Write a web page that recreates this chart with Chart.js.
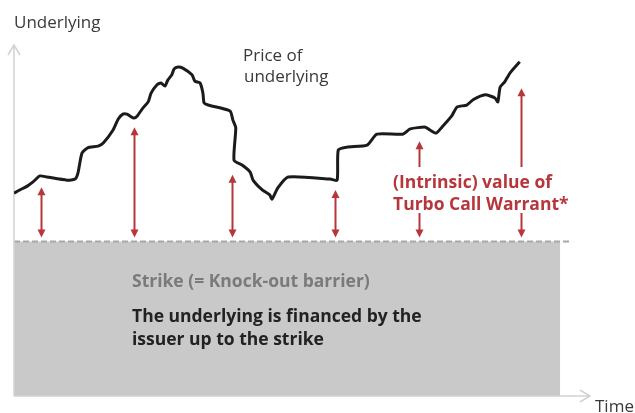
<!DOCTYPE html>
<html>
<head>
<meta charset="utf-8">
<script src="https://cdn.jsdelivr.net/npm/chart.js@4"></script>
<style>
  body { margin: 0; background: #fff; }
  #wrap { width: 635px; height: 413px; }
</style>
</head>
<body>
<div id="wrap"><canvas id="turbo" width="635" height="413"></canvas></div>
<script>
// -------- DATA -------- //
var timePoints = [0, 1.0, 2.3, 3.3, 4.5, 5.7, 9.2, 10.6, 11.1, 11.8, 12.8, 14.6, 15.5, 17.2, 18.1, 18.9, 19.6, 20.8, 21.4, 22.4,
    23.3, 23.8, 24.8, 25.5, 26.2, 26.7, 27.4, 27.8, 28.5, 29.3, 30.9, 31.4, 32.3, 32.8, 33.0, 33.7, 37.5, 38.0, 38.5, 38.2,
    39.6, 41.0, 41.5, 43.1, 44.4, 44.8, 45.8, 47.6, 54.9, 56.1, 56.3, 57.8, 61.3, 63.0, 67.5, 68.8, 71.4, 72.2, 73.3, 74.3,
    76.0, 76.9, 78.6, 79.7, 81.8, 83.5, 84.0, 84.4, 85.2, 86.1, 87.8];
var priceValues = [57.8, 58.7, 59.8, 61.0, 62.7, 62.4, 61.5, 61.8, 63.5, 69.2, 70.7, 71.2, 72.1, 75.8, 78.9, 80.3, 80.3, 79.2, 79.8, 82.1,
    83.8, 86.3, 88.6, 89.2, 88.3, 90.0, 91.5, 93.2, 93.7, 93.4, 91.5, 89.7, 89.2, 86.3, 83.5, 82.9, 81.2, 78.6, 76.4, 67.2,
    65.8, 63.8, 61.5, 58.7, 57.3, 56.1, 59.3, 62.4, 61.8, 61.5, 70.1, 70.9, 71.5, 74.6, 74.6, 76.1, 76.6, 75.8, 74.9, 76.6,
    79.8, 82.3, 82.9, 84.4, 85.8, 84.9, 83.8, 88.0, 89.5, 92.0, 95.2];
var strike = 44;
var arrowTimes = [4.7, 20.8, 37.8, 55.7, 70.3, 88.0];
var arrowTops = [59.5, 76.6, 63.0, 58.7, 72.6, 87.7];
var barrierEnd = 94.8;   // end of grey area (time units)
var strikeLineEnd = 96.9;

var red = '#b5373b';

function arrowHead(c, x, y, dir) {
    c.beginPath();
    c.moveTo(x, y);
    c.lineTo(x - 4, y + dir * 8);
    c.lineTo(x + 4, y + dir * 8);
    c.closePath();
    c.fill();
}

// -------- BACKGROUND / ANNOTATIONS -------- //
var turboPlugin = {
    id: 'turbo',
    beforeDatasetsDraw: function (chart) {
        var c = chart.ctx, xs = chart.scales.x, ys = chart.scales.y;
        var x0 = xs.getPixelForValue(0), yS = ys.getPixelForValue(strike), yB = ys.getPixelForValue(0);
        c.save();
        // grey area below the strike
        c.fillStyle = '#c9c9c9';
        c.fillRect(x0, yS, xs.getPixelForValue(barrierEnd) - x0, yB - yS);
        // dashed strike line
        c.strokeStyle = '#a8a8a8';
        c.lineWidth = 2;
        c.setLineDash([6, 3]);
        c.beginPath();
        c.moveTo(x0, yS);
        c.lineTo(xs.getPixelForValue(strikeLineEnd), yS);
        c.stroke();
        c.setLineDash([]);
        // axes
        c.strokeStyle = '#d2d2d2';
        c.lineWidth = 1.5;
        var yTop = ys.getPixelForValue(100), xEnd = xs.getPixelForValue(100);
        c.beginPath();
        c.moveTo(x0, yB); c.lineTo(x0, yTop);
        c.moveTo(x0 - 6, yTop + 10); c.lineTo(x0, yTop); c.lineTo(x0 + 6, yTop + 10);
        c.moveTo(x0, yB); c.lineTo(xEnd, yB);
        c.moveTo(xEnd - 10, yB - 6); c.lineTo(xEnd, yB); c.lineTo(xEnd - 10, yB + 6);
        c.stroke();
        c.restore();
    },
    afterDatasetsDraw: function (chart) {
        var c = chart.ctx, xs = chart.scales.x, ys = chart.scales.y;
        var yS = ys.getPixelForValue(strike);
        c.save();
        c.strokeStyle = red;
        c.fillStyle = red;
        c.lineWidth = 2;
        arrowTimes.forEach(function (t, i) {
            var x = Math.round(xs.getPixelForValue(t)) + 0.5;
            var top = ys.getPixelForValue(arrowTops[i]);
            var bot = yS - 4;
            c.beginPath();
            c.moveTo(x, top + 6);
            c.lineTo(x, bot - 6);
            c.stroke();
            arrowHead(c, x, top, 1);
            arrowHead(c, x, bot, -1);
        });
        // text labels
        c.fillStyle = '#fff';
        c.fillRect(388, 167, 172, 46);
        c.textBaseline = 'alphabetic';
        c.fillStyle = red;
        c.font = 'bold 17.5px "Open Sans"';
        c.fillText('(Intrinsic) value of', 393, 188);
        c.fillText('Turbo Call Warrant*', 393, 210);

        c.fillStyle = '#3a3a3a';
        c.font = '17px "Open Sans"';
        c.fillText('Underlying', 14, 28);
        c.fillText('Price of', 243, 61);
        c.fillText('underlying', 244, 82);
        c.fillText('Time', 595, 412);

        c.fillStyle = '#7a7a7a';
        c.font = 'bold 17.5px "Open Sans"';
        c.fillText('Strike (= Knock-out barrier)', 132, 287);
        c.fillStyle = '#222';
        c.fillText('The underlying is financed by the', 132, 322);
        c.fillText('issuer up to the strike', 132, 345);
        c.restore();
    }
};

// -------- PRICE LINE -------- //
var ctx = document.getElementById('turbo').getContext('2d');

new Chart(ctx, {
    type: 'line',
    data: {
        datasets: [{
            data: timePoints.map(function (t, i) { return { x: t, y: priceValues[i] }; }),
            borderColor: '#1b1b1b',
            borderWidth: 3,
            pointRadius: 0,
            tension: 0.2,
            fill: false
        }]
    },
    options: {
        responsive: false,
        animation: false,
        layout: { padding: { left: 14, right: 45, top: 45, bottom: 17 } },
        plugins: { legend: { display: false }, tooltip: { enabled: false } },
        scales: {
            x: { type: 'linear', min: 0, max: 100, display: false },
            y: { min: 0, max: 100, display: false }
        }
    },
    plugins: [turboPlugin]
});
</script>
</body>
</html>
